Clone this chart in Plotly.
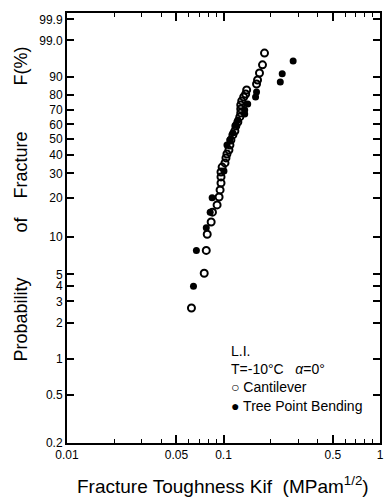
import numpy as np
import plotly.graph_objects as go

# ---- data (K in MPa m^1/2, F in %) ----
cant_k = [0.0624, 0.0753, 0.0776, 0.0787, 0.0834, 0.085, 0.0910, 0.0937, 0.0951, 0.0964,
          0.0964, 0.0964, 0.098, 0.1022, 0.1037, 0.1052, 0.1083, 0.1099, 0.1115, 0.1148,
          0.1182, 0.1199, 0.1235, 0.1271, 0.1289, 0.1289, 0.1289, 0.1308, 0.1346, 0.1386,
          0.1406, 0.1626, 0.1650, 0.1698, 0.1775, 0.1828]
cant_f = [2.65, 5.1, 7.8, 10.5, 13.1, 15.6, 17.7, 20.3, 22.9, 25.7,
          28.4, 30.7, 33.2, 35.4, 38.2, 40.5, 42.9, 46.0, 49.3, 52.7,
          55.4, 58.9, 61.7, 65.3, 68.1, 70.9, 73.6, 76.3, 78.8, 80.7,
          83.1, 86.4, 88.4, 91.5, 94.4, 97.3]

tpb_k = [0.0643, 0.0671, 0.0776, 0.0822, 0.0846, 0.1007, 0.1052, 0.1099, 0.1148, 0.1199,
         0.1235, 0.1366, 0.1366, 0.1428, 0.1603, 0.1626, 0.2306, 0.2372, 0.2786]
tpb_f = [4.0, 7.8, 11.8, 15.6, 20.0, 31.2, 46.0, 49.3, 54.0, 59.6,
         63.1, 67.4, 70.2, 74.3, 78.8, 81.9, 87.4, 91.2, 95.5]

y_tick_vals = [99.9, 99.0, 90, 80, 70, 60, 50, 40, 30, 20, 10, 5, 4, 3, 2, 1, 0.5, 0.2]
y_tick_text = ["99.9", "99.0", "90", "80", "70", "60", "50", "40", "30", "20", "10",
               "5", "4", "3", "2", "1", "0.5", "0.2"]
x_tick_vals = [0.01, 0.05, 0.1, 0.5, 1]
x_tick_text = ["0.01", "0.05", "0.1", "0.5", "1"]
x_minor_vals = [0.02, 0.03, 0.04, 0.06, 0.07, 0.08, 0.09,
                0.2, 0.3, 0.4, 0.6, 0.7, 0.8, 0.9]
y_title_words = ["F(%)", "Fracture", "of", "Probability"]


def weib(p):
    p = np.asarray(p, dtype=float) / 100.0
    return np.log(-np.log(1.0 - p))


FONT = "Liberation Sans, Arial, sans-serif"
W, H = 388, 503
ML, MR, MT, MB = 67, 4, 13, 60
PW, PH = W - ML - MR, H - MT - MB


def px(xp):
    return (xp - ML) / PW


def py(yp):
    return (H - MB - yp) / PH


fig = go.Figure()
fig.add_trace(go.Scatter(x=cant_k, y=weib(cant_f), mode="markers",
                         marker=dict(symbol="circle-open", size=7, color="black",
                                     line=dict(width=2, color="black")),
                         name="Cantilever"))
fig.add_trace(go.Scatter(x=tpb_k, y=weib(tpb_f), mode="markers",
                         marker=dict(symbol="circle", size=7, color="black"),
                         name="Tree Point Bending"))

fig.update_layout(
    width=W, height=H,
    margin=dict(l=ML, r=MR, t=MT, b=MB),
    paper_bgcolor="white", plot_bgcolor="white",
    showlegend=False,
    font=dict(family=FONT, color="black", size=13),
)
fig.update_xaxes(
    type="log", range=[-2, 0],
    tickvals=x_tick_vals, ticktext=x_tick_text,
    ticks="inside", ticklen=8, tickwidth=1.5, tickcolor="black",
    minor=dict(tickvals=x_minor_vals, ticks="inside", ticklen=4, tickwidth=1.2, tickcolor="black",
               showgrid=False),
    showline=True, linewidth=2, linecolor="black", mirror="ticks",
    showgrid=False, zeroline=False,
    tickfont=dict(size=12),
)
fig.update_yaxes(
    range=[-6.2136, 2.055],
    tickvals=list(weib(y_tick_vals)), ticktext=y_tick_text,
    ticks="inside", ticklen=7, tickwidth=2, tickcolor="black",
    showline=True, linewidth=2, linecolor="black", mirror="ticks",
    showgrid=False, zeroline=False,
    tickfont=dict(size=12),
)

# y-axis title words, spaced as in the original
for word, yc in zip(y_title_words, [66, 165, 225, 320]):
    fig.add_annotation(xref="paper", yref="paper", x=px(20), y=py(yc),
                       text=word, textangle=-90, showarrow=False, font=dict(size=18),
                       xanchor="center", yanchor="middle")

fig.add_annotation(xref="paper", yref="paper", x=px(225), y=py(485),
                   text="Fracture Toughness Kif\u00a0\u00a0(MPam<sup>1/2</sup>)",
                   showarrow=False, font=dict(size=19),
                   xanchor="center", yanchor="middle")
fig.add_annotation(xref="paper", yref="paper", x=px(231), y=py(341),
                   text="L.I.<br>T=-10°C\u00a0\u00a0\u00a0<i>α</i>=0°<br>○ Cantilever<br>● Tree Point Bending",
                   showarrow=False, align="left", font=dict(size=14),
                   xanchor="left", yanchor="top")

fig.write_html("out.html")
